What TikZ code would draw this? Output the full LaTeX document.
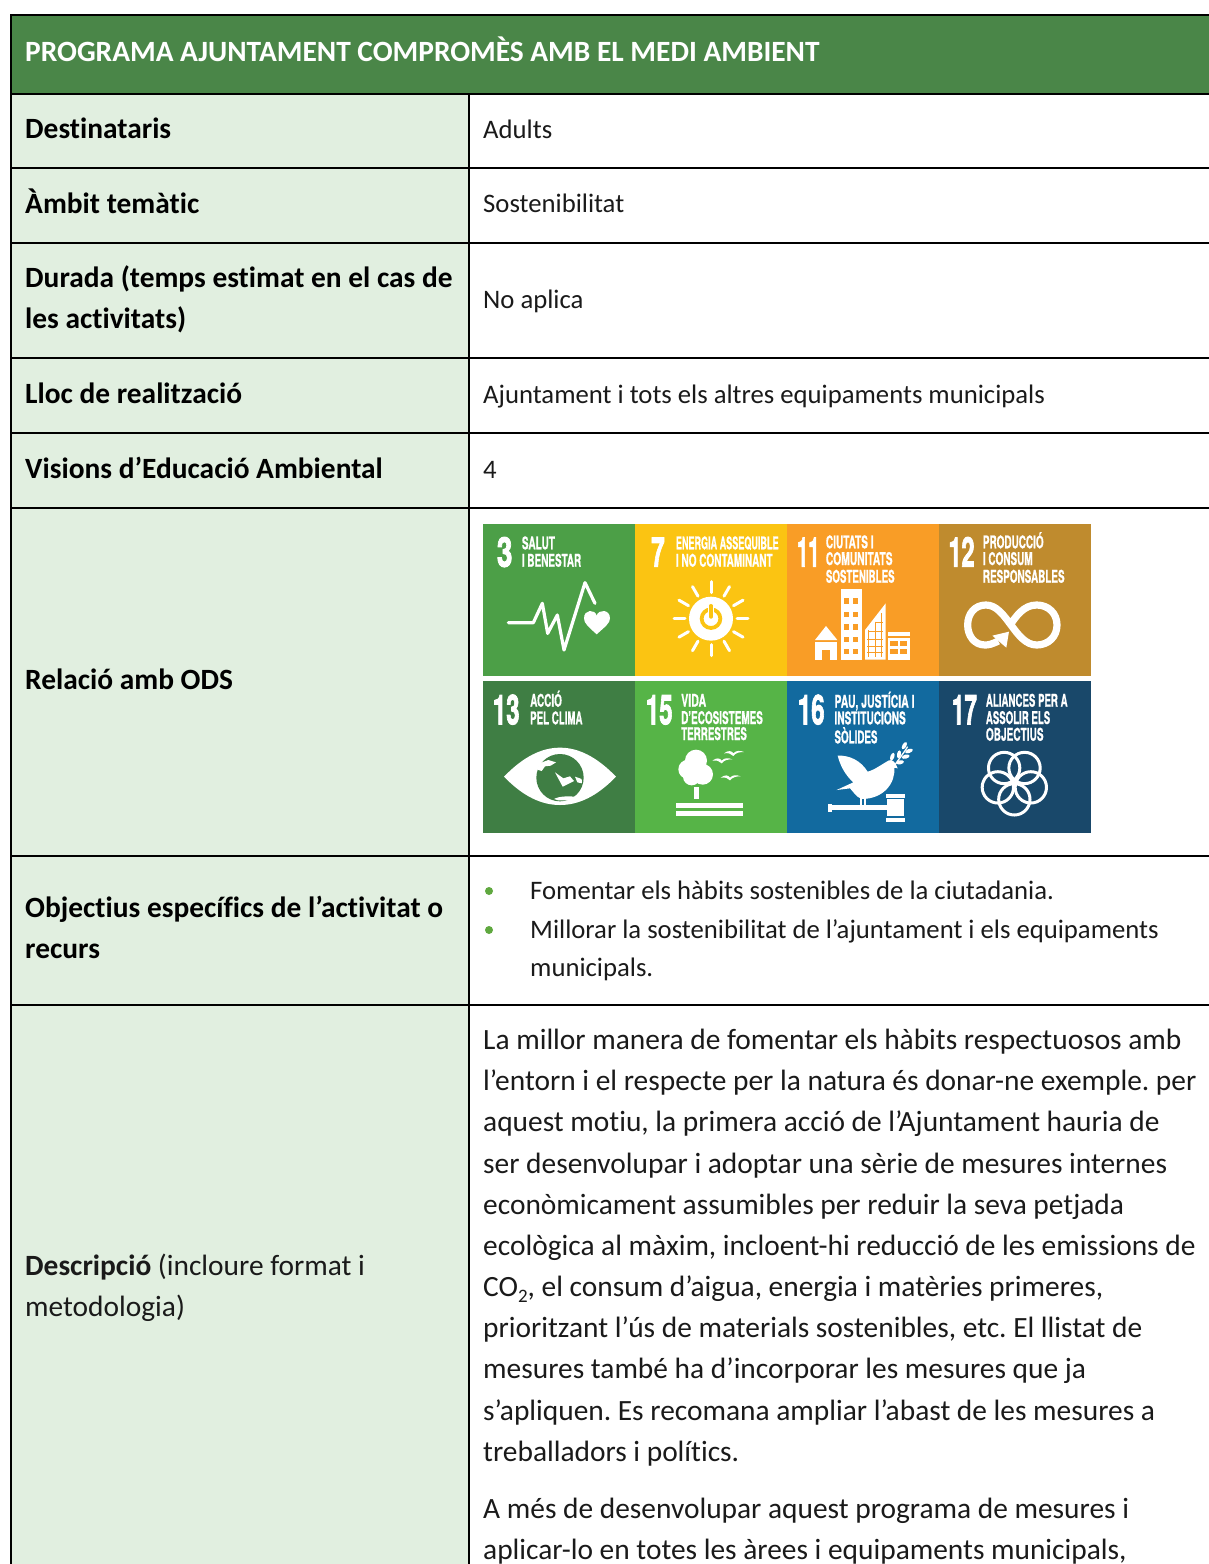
\documentclass[tikz,border=0pt]{standalone}
\usepackage{fontspec}
\usetikzlibrary{calc}
\setmainfont[Ligatures=CommonOff]{Carlito}
\newfontfamily\tilefont[BoldFeatures={FakeBold=1}]{TeX Gyre Heros}
\newfontfamily\tilenum[BoldFeatures={FakeBold=2.5}]{TeX Gyre Heros}
\definecolor{hdr}{HTML}{4A8648}
\definecolor{lft}{HTML}{E1EFE0}
\definecolor{sdgA}{HTML}{4C9F47}
\definecolor{sdgB}{HTML}{FBC412}
\definecolor{sdgC}{HTML}{F99D26}
\definecolor{sdgD}{HTML}{BF8B2E}
\definecolor{sdgE}{HTML}{3F7E44}
\definecolor{sdgF}{HTML}{56B447}
\definecolor{sdgG}{HTML}{126A9F}
\definecolor{sdgH}{HTML}{19486A}
\definecolor{txt}{HTML}{1A1A1A}
\definecolor{bul}{HTML}{5FA83F}
\tikzset{
  rule/.style={draw=black,line width=2pt},
  head/.style={anchor=base west,inner sep=0pt,yshift=-.7pt,text=white,font=\fontsize{29.4}{30}\selectfont\bfseries},
  lab/.style={anchor=base west,inner sep=0pt,yshift=-.7pt,text=black,font=\fontsize{29.4}{30}\selectfont\bfseries},
  labn/.style={anchor=base west,inner sep=0pt,yshift=-.7pt,text=txt,font=\fontsize{29.4}{30}\selectfont},
  val/.style={anchor=base west,inner sep=0pt,yshift=-.7pt,text=txt,font=\fontsize{26.7}{30}\selectfont},
  desc/.style={anchor=base west,inner sep=0pt,yshift=-.7pt,text=txt,font=\fontsize{29.4}{30}\selectfont},
  tiletxt/.style={anchor=base west,inner sep=0pt,text=white,font=\tilefont\bfseries},
  tilenumb/.style={anchor=base west,inner sep=0pt,text=white,font=\tilenum\bfseries},
  tileline/.style={draw=white,line cap=round,line join=round},
  gridline/.style={line width=.9pt}
}
\newcommand{\tl}[6]{\node[tiletxt] (#1) at (#2,#3) {\fontsize{#5}{#5}\selectfont\resizebox{#4pt}{\height}{#6}};}
\newcommand{\tn}[6]{\node[tilenumb] (#1) at (#2,#3) {\fontsize{#5}{#5}\selectfont\resizebox{#4pt}{\height}{#6}};}
\begin{document}
\frenchspacing
\begin{tikzpicture}[x=1pt,y=-1pt]
\useasboundingbox (0,0) rectangle (1209,1564);
\fill[white] (0,0) rectangle (1209,1564);
% fills
\fill[hdr] (11,14.5) rectangle (1209,94);
\fill[lft] (11,94) rectangle (469,1564);
% rules
\draw[rule] (1209,14.5) -- (11,14.5) -- (11,1564);
\draw[rule] (469,94) -- (469,1564);
\foreach \yy in {94,168,243,358,433,508,856,1005}{\draw[rule] (11,\yy) -- (1209,\yy);}
% header + labels
\node[head] (title) at (25,61) {PROGRAMA AJUNTAMENT COMPROMÈS AMB EL MEDI AMBIENT};
\node[lab] (l1) at (25,138) {Destinataris};
\node[lab] (l2) at (25,213) {Àmbit temàtic};
\node[lab] (l3a) at (25,287) {Durada (temps estimat en el cas de};
\node[lab] (l3b) at (25,328) {les activitats)};
\node[lab] (l4) at (25,403) {Lloc de realització};
\node[lab] (l5) at (25,478) {Visions d’Educació Ambiental};
\node[lab] (l6) at (25,689) {Relació amb ODS};
\node[lab] (l7a) at (25,917) {Objectius específics de l’activitat o};
\node[lab] (l7b) at (25,958) {recurs};
\node[labn] (l8a) at (25,1275) {\textbf{Descripció} (incloure format i};
\node[labn] (l8b) at (25,1316) {metodologia)};
% values
\node[val] (v1) at (483,138) {Adults};
\node[val] (v2) at (483,212) {Sostenibilitat};
\node[val] (v3) at (483,308) {No aplica};
\node[val] (v4) at (483,403) {Ajuntament i tots els altres equipaments municipals};
\node[val] (v5) at (483,478) {4};
\fill[bul] (489,891) circle (4);
\fill[bul] (489,930) circle (4);
\node[val] (b1) at (530,899) {Fomentar els hàbits sostenibles de la ciutadania.};
\node[val] (b2) at (530,938) {Millorar la sostenibilitat de l’ajuntament i els equipaments};
\node[val] (b3) at (530,976) {municipals.};
% description
\node[desc] (d1) at (483,1049) {La millor manera de fomentar els hàbits respectuosos amb};
\node[desc] (d2) at (483,1090) {l’entorn i el respecte per la natura és donar-ne exemple. per};
\node[desc] (d3) at (483,1131) {aquest motiu, la primera acció de l’Ajuntament hauria de};
\node[desc] (d4) at (483,1173) {ser desenvolupar i adoptar una sèrie de mesures internes};
\node[desc] (d5) at (483,1214) {econòmicament assumibles per reduir la seva petjada};
\node[desc] (d6) at (483,1255) {ecològica al màxim, incloent-hi reducció de les emissions de};
\node[desc] (d7) at (483,1296) {CO\raisebox{-.2em}{\fontsize{19}{19}\selectfont 2}, el consum d’aigua, energia i matèries primeres,};
\node[desc] (d8) at (483,1337) {prioritzant l’ús de materials sostenibles, etc. El llistat de};
\node[desc] (d9) at (483,1378) {mesures també ha d’incorporar les mesures que ja};
\node[desc] (d10) at (483,1420) {s’apliquen. Es recomana ampliar l’abast de les mesures a};
\node[desc] (d11) at (483,1461) {treballadors i polítics.};
\node[desc] (d12) at (483,1518) {A més de desenvolupar aquest programa de mesures i};
\node[desc] (d13) at (483,1559) {aplicar-lo en totes les àrees i equipaments municipals,};
% tiles
\fill[sdgA] (483,524) rectangle (635,676);
\fill[sdgB] (635,524) rectangle (787,676);
\fill[sdgC] (787,524) rectangle (939,676);
\fill[sdgD] (939,524) rectangle (1091,676);
\fill[sdgE] (483,681) rectangle (635,833);
\fill[sdgF] (635,681) rectangle (787,833);
\fill[sdgG] (787,681) rectangle (939,833);
\fill[sdgH] (939,681) rectangle (1091,833);
% tile texts
\tn{n3}{496.7}{566.7}{15.6}{41}{3}
\tl{t3a}{521.7}{549.3}{33}{17.5}{SALUT}
\tl{t3b}{521.7}{566.7}{59.3}{17.5}{I BENESTAR}
\tn{n7}{651}{566.7}{13.5}{41}{7}
\tl{t7a}{675.7}{549.3}{102.7}{17.5}{ENERGIA ASSEQUIBLE}
\tl{t7b}{675.7}{566.7}{96.7}{17.5}{I NO CONTAMINANT}
\tn{n11}{796.7}{566.7}{22.7}{41}{11}
\tl{t11a}{825.7}{548.3}{47.7}{17.5}{CIUTATS I}
\tl{t11b}{825.7}{565}{66.7}{17.5}{COMUNITATS}
\tl{t11c}{825.7}{582.7}{68.7}{17.5}{SOSTENIBLES}
\tn{n12}{948.3}{566.7}{26}{41}{12}
\tl{t12a}{982.7}{548.3}{60.7}{17.5}{PRODUCCIÓ}
\tl{t12b}{982.7}{565}{49.7}{17.5}{I CONSUM}
\tl{t12c}{982.7}{582.7}{81.7}{17.5}{RESPONSABLES}
\tn{n13}{492.7}{724.3}{26.7}{41}{13}
\tl{t13a}{530}{706.7}{31.7}{17.5}{ACCIÓ}
\tl{t13b}{530}{724.3}{52.3}{17.5}{PEL CLIMA}
\tn{n15}{645.7}{724.3}{26.7}{41}{15}
\tl{t15a}{681}{706.7}{25}{17.5}{VIDA}
\tl{t15b}{681}{724}{81.7}{17.5}{D’ECOSISTEMES}
\tl{t15c}{681}{740}{65.7}{17.5}{TERRESTRES}
\tn{n16}{797.7}{724.3}{26.7}{41}{16}
\tl{t16a}{834.3}{707.7}{80}{17.5}{PAU, JUSTÍCIA I}
\tl{t16b}{834.3}{724.3}{71.3}{17.5}{INSTITUCIONS}
\tl{t16c}{834.3}{743.3}{43}{17.5}{SÒLIDES}
\tn{n17}{951.7}{724.3}{25}{41}{17}
\tl{t17a}{985.7}{706.7}{81.7}{17.5}{ALIANCES PER A}
\tl{t17b}{985.7}{724}{64.3}{17.5}{ASSOLIR ELS}
\tl{t17c}{985.7}{740.7}{57.7}{17.5}{OBJECTIUS}
% --- icons row 1 left
\begin{scope}[shift={(480,515)},scale=1/3]
  \draw[tileline,line width=3.2pt] (85,323) -- (160,323) -- (187,265) -- (203,355) -- (232,300) -- (252,405) -- (315,203) -- (345,265);
  \fill[white] (350,358) .. controls (325,335) and (312,325) .. (312,310) .. controls (312,282) and (345,282) .. (350,302) .. controls (355,282) and (390,282) .. (390,310) .. controls (390,325) and (375,335) .. (350,358) -- cycle;
  \foreach \aa in {0,30,...,330}{\draw[tileline,line width=3pt] (693,311)++(\aa:78) -- ++(\aa:33);}
  \fill[white] (693,311) circle (66);
  \draw[sdgB,line width=3.8pt] (693,311) circle (28);
  \draw[white,line width=6pt] (693,300) -- (693,262);
  \draw[sdgB,line width=3.4pt,line cap=round] (693,306) -- (693,272);
\end{scope}
% --- icons row 1 right
\begin{scope}[shift={(785,515)},scale=1/3]
  % house
  \fill[white] (123,333) -- (157,375) -- (90,375) -- cycle;
  \fill[white] (90,380) rectangle (157,434);
  \fill[sdgC] (112,405) rectangle (135,434);
  % tower
  \fill[white] (167,222) rectangle (230,434);
  \foreach \yy in {250,290,328,365,402}{
    \fill[sdgC] (177,\yy) rectangle ++(16,16);
    \fill[sdgC] (204,\yy) rectangle ++(16,16);
  }
  % slanted building
  \fill[white] (240,434) -- (240,345) -- (302,265) -- (302,434) -- cycle;
  \draw[sdgC,gridline] (272,320) -- (272,425) (290,295) -- (290,425) (250,345) -- (250,425);
  \draw[sdgC,gridline] (252,350) -- (295,350) (247,372) -- (295,372) (247,395) -- (295,395) (247,412) -- (295,412) (272,322) -- (295,322);
  % low building
  \fill[white] (308,350) rectangle (375,364);
  \fill[white] (308,368) rectangle (375,434);
  \foreach \xx in {316,345}{
    \fill[sdgC] (\xx,378) rectangle ++(22,14);
    \fill[sdgC] (\xx,402) rectangle ++(22,14);
  }
  % infinity
  \draw[white,line width=7.2pt] (640,378) .. controls (620,388) and (610,390) .. (600,390)
     .. controls (568,390) and (548,362) .. (548,330) .. controls (548,295) and (570,270) .. (603,270)
     .. controls (665,270) and (690,390) .. (755,390) .. controls (790,390) and (816,365) .. (816,330)
     .. controls (816,295) and (790,270) .. (755,270) .. controls (715,270) and (692,305) .. (672,335);
  \fill[white] (622,362) -- (672,350) -- (664,398) -- cycle;
\end{scope}
% --- icons row 2 left
\begin{scope}[shift={(480,675)},scale=1/3]
  \fill[white] (72,305) .. controls (130,245) and (185,218) .. (240,218) .. controls (295,218) and (350,245) .. (408,305)
     .. controls (350,365) and (295,390) .. (240,390) .. controls (185,390) and (130,365) .. (72,305) -- cycle;
  \fill[sdgE] (240,308) circle (71);
  \fill[white] (178,265) -- (205,255) -- (228,262) -- (212,272) -- (195,274) -- (185,288) -- (172,284) -- cycle;
  \fill[white] (225,292) -- (250,310) -- (270,304) -- (282,318) -- (268,325) -- (248,335) -- (240,320) -- cycle;
  \fill[white] (222,372) .. controls (240,362) and (270,364) .. (285,365) -- (270,376) -- (235,376) -- cycle;
  \fill[white] (285,305) -- (305,312) -- (306,325) -- (292,322) -- cycle;
  % tree
  \fill[white] (648,257) circle (33);
  \fill[white] (624,283) circle (29);
  \fill[white] (668,298) circle (31);
  \fill[white] (635,305) circle (26);
  \fill[white] (642,335) rectangle (657,372);
  \fill[white] (587,384) rectangle (790,398);
  \fill[white] (587,408) rectangle (790,422);
  \foreach \bx/\by in {725/257,760/235,750/308}{
    \fill[white] (\bx-28,\by) .. controls (\bx-15,\by-10) and (\bx-5,\by-8) .. (\bx,\by) .. controls (\bx+8,\by-9) and (\bx+20,\by-9) .. (\bx+32,\by-4) .. controls (\bx+18,\by-4) and (\bx+8,\by-2) .. (\bx,\by+8) .. controls (\bx-6,\by+1) and (\bx-15,\by-2) .. (\bx-28,\by) -- cycle;
  }
\end{scope}
% --- icons row 2 right
\begin{scope}[shift={(785,675)},scale=1/3]
  % dove
  \fill[white] (158,242) .. controls (195,240) and (228,258) .. (248,290) .. controls (268,285) and (290,268) .. (312,256) .. controls (322,252) and (332,262) .. (338,280) -- (328,278)
     .. controls (332,325) and (295,372) .. (230,372) .. controls (212,365) and (205,350) .. (195,340) -- (155,345) -- (205,322) .. controls (180,300) and (165,270) .. (158,242) -- cycle;
  \draw[white,line width=1.6pt] (228,370) -- (228,392) (240,368) -- (240,392);
  \draw[white,line width=1.3pt] (328,272) .. controls (340,255) and (355,235) .. (368,215);
  \foreach \lx/\ly/\la in {322/245/70,342/238/80,358/212/60,345/262/10,362/245/15,372/228/20}{
    \fill[white,rotate around={\la:(\lx,\ly)}] (\lx,\ly) ellipse (12 and 6);
  }
  % gavel
  \fill[white] (130,388) rectangle (142,410);
  \fill[white] (140,391) rectangle (306,405);
  \fill[white] (306,372) rectangle (358,424);
  \fill[white] (303,358) rectangle (360,369);
  \fill[white] (303,428) rectangle (360,440);
  % rings
  \foreach \aa in {90,162,234,306,18}{
    \draw[white,line width=3pt] ($(688,321)+(\aa:52)$) circle (47);
  }
\end{scope}
\end{tikzpicture}
\end{document}
